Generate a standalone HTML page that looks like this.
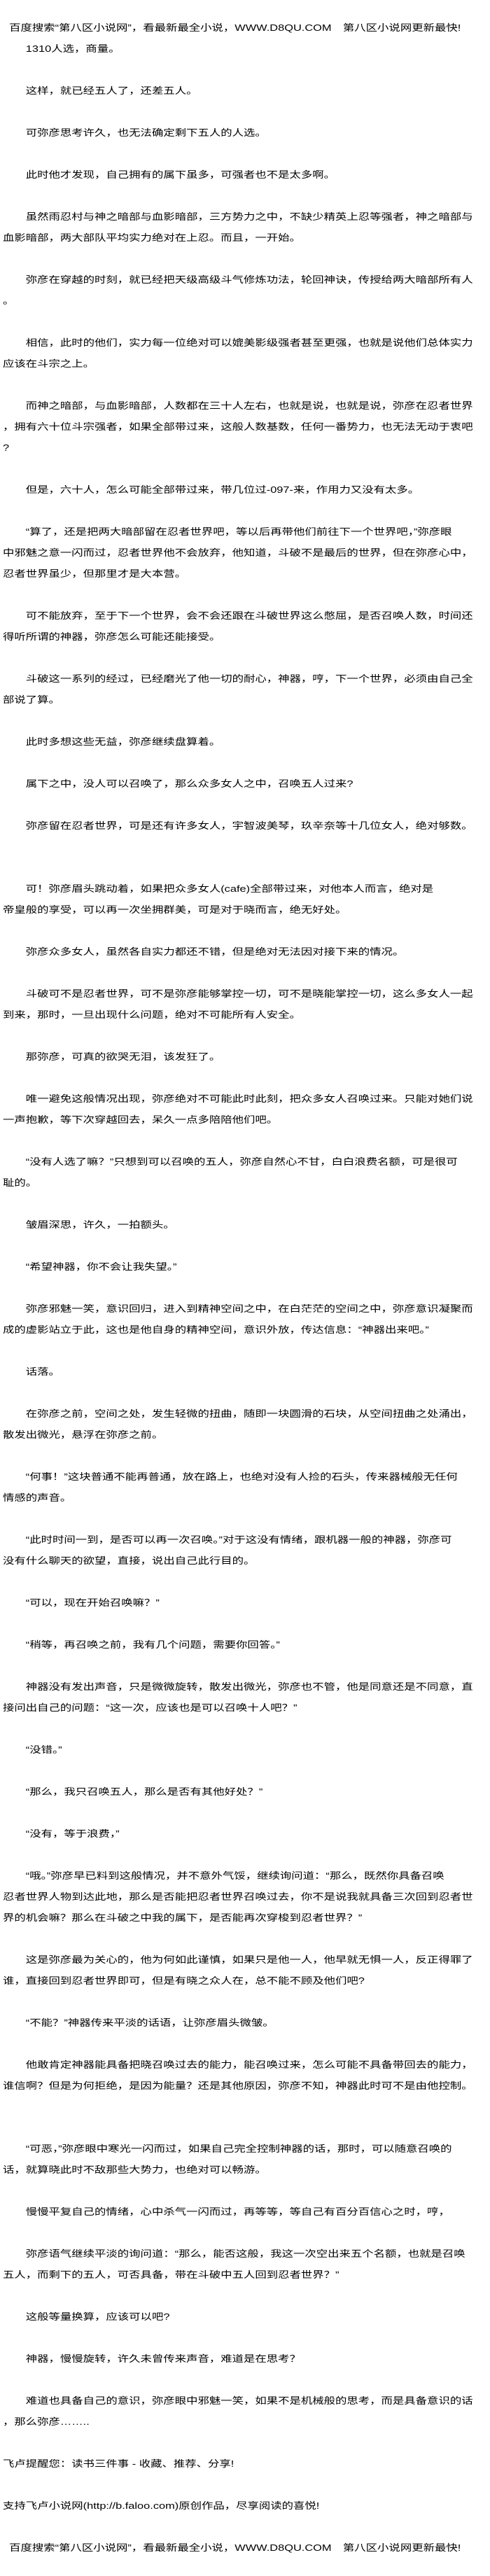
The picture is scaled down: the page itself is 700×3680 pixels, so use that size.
<!DOCTYPE html>
<html lang="zh-CN">
<head>
<meta charset="utf-8">
<style>
html,body{margin:0;padding:0;background:#fff;}
body{width:700px;height:3680px;overflow:hidden;position:relative;}
#t{position:absolute;left:4px;top:25px;margin:0;
font-family:"Liberation Sans","Noto Sans CJK SC",sans-serif;
font-size:13px;line-height:30px;color:#000;white-space:pre;
transform:scaleX(1.26);transform-origin:0 0;}
</style>
</head>
<body>
<pre id="t">  百度搜索“第八区小说网”，看最新最全小说，WWW.D8QU.COM　第八区小说网更新最快!
　　1310人选，商量。

　　这样，就已经五人了，还差五人。

　　可弥彦思考许久，也无法确定剩下五人的人选。

　　此时他才发现，自己拥有的属下虽多，可强者也不是太多啊。

　　虽然雨忍村与神之暗部与血影暗部，三方势力之中，不缺少精英上忍等强者，神之暗部与
血影暗部，两大部队平均实力绝对在上忍。而且，一开始。

　　弥彦在穿越的时刻，就已经把天级高级斗气修炼功法，轮回神诀，传授给两大暗部所有人
。

　　相信，此时的他们，实力每一位绝对可以媲美影级强者甚至更强，也就是说他们总体实力
应该在斗宗之上。

　　而神之暗部，与血影暗部，人数都在三十人左右，也就是说，也就是说，弥彦在忍者世界
，拥有六十位斗宗强者，如果全部带过来，这般人数基数，任何一番势力，也无法无动于衷吧
?

　　但是，六十人，怎么可能全部带过来，带几位过-097-来，作用力又没有太多。

　　“算了，还是把两大暗部留在忍者世界吧，等以后再带他们前往下一个世界吧，”弥彦眼
中邪魅之意一闪而过，忍者世界他不会放弃，他知道，斗破不是最后的世界，但在弥彦心中，
忍者世界虽少，但那里才是大本营。

　　可不能放弃，至于下一个世界，会不会还跟在斗破世界这么憋屈，是否召唤人数，时间还
得听所谓的神器，弥彦怎么可能还能接受。

　　斗破这一系列的经过，已经磨光了他一切的耐心，神器，哼，下一个世界，必须由自己全
部说了算。

　　此时多想这些无益，弥彦继续盘算着。

　　属下之中，没人可以召唤了，那么众多女人之中，召唤五人过来?

　　弥彦留在忍者世界，可是还有许多女人，宇智波美琴，玖辛奈等十几位女人，绝对够数。


　　可！弥彦眉头跳动着，如果把众多女人(cafe)全部带过来，对他本人而言，绝对是
帝皇般的享受，可以再一次坐拥群美，可是对于晓而言，绝无好处。

　　弥彦众多女人，虽然各自实力都还不错，但是绝对无法因对接下来的情况。

　　斗破可不是忍者世界，可不是弥彦能够掌控一切，可不是晓能掌控一切，这么多女人一起
到来，那时，一旦出现什么问题，绝对不可能所有人安全。

　　那弥彦，可真的欲哭无泪，该发狂了。

　　唯一避免这般情况出现，弥彦绝对不可能此时此刻，把众多女人召唤过来。只能对她们说
一声抱歉，等下次穿越回去，呆久一点多陪陪他们吧。

　　“没有人选了嘛？”只想到可以召唤的五人，弥彦自然心不甘，白白浪费名额，可是很可
耻的。

　　皱眉深思，许久，一拍额头。

　　“希望神器，你不会让我失望。”

　　弥彦邪魅一笑，意识回归，进入到精神空间之中，在白茫茫的空间之中，弥彦意识凝聚而
成的虚影站立于此，这也是他自身的精神空间，意识外放，传达信息：“神器出来吧。”

　　话落。

　　在弥彦之前，空间之处，发生轻微的扭曲，随即一块圆滑的石块，从空间扭曲之处涌出，
散发出微光，悬浮在弥彦之前。

　　“何事！”这块普通不能再普通，放在路上，也绝对没有人捡的石头，传来器械般无任何
情感的声音。

　　“此时时间一到，是否可以再一次召唤。”对于这没有情绪，跟机器一般的神器，弥彦可
没有什么聊天的欲望，直接，说出自己此行目的。

　　“可以，现在开始召唤嘛？”

　　“稍等，再召唤之前，我有几个问题，需要你回答。”

　　神器没有发出声音，只是微微旋转，散发出微光，弥彦也不管，他是同意还是不同意，直
接问出自己的问题：“这一次，应该也是可以召唤十人吧？”

　　“没错。”

　　“那么，我只召唤五人，那么是否有其他好处？”

　　“没有，等于浪费，”

　　“哦。”弥彦早已料到这般情况，并不意外气馁，继续询问道：“那么，既然你具备召唤
忍者世界人物到达此地，那么是否能把忍者世界召唤过去，你不是说我就具备三次回到忍者世
界的机会嘛？那么在斗破之中我的属下，是否能再次穿梭到忍者世界？”

　　这是弥彦最为关心的，他为何如此谨慎，如果只是他一人，他早就无惧一人，反正得罪了
谁，直接回到忍者世界即可，但是有晓之众人在，总不能不顾及他们吧?

　　“不能？”神器传来平淡的话语，让弥彦眉头微皱。

　　他敢肯定神器能具备把晓召唤过去的能力，能召唤过来，怎么可能不具备带回去的能力，
谁信啊？但是为何拒绝，是因为能量？还是其他原因，弥彦不知，神器此时可不是由他控制。


　　“可恶，”弥彦眼中寒光一闪而过，如果自己完全控制神器的话，那时，可以随意召唤的
话，就算晓此时不敌那些大势力，也绝对可以畅游。

　　慢慢平复自己的情绪，心中杀气一闪而过，再等等，等自己有百分百信心之时，哼，

　　弥彦语气继续平淡的询问道：“那么，能否这般，我这一次空出来五个名额，也就是召唤
五人，而剩下的五人，可否具备，带在斗破中五人回到忍者世界？”

　　这般等量换算，应该可以吧?

　　神器，慢慢旋转，许久未曾传来声音，难道是在思考？

　　难道也具备自己的意识，弥彦眼中邪魅一笑，如果不是机械般的思考，而是具备意识的话
，那么弥彦……..

飞卢提醒您：读书三件事 - 收藏、推荐、分享!

支持飞卢小说网(http://b.faloo.com)原创作品，尽享阅读的喜悦!

  百度搜索“第八区小说网”，看最新最全小说，WWW.D8QU.COM　第八区小说网更新最快!</pre>
</body>
</html>
